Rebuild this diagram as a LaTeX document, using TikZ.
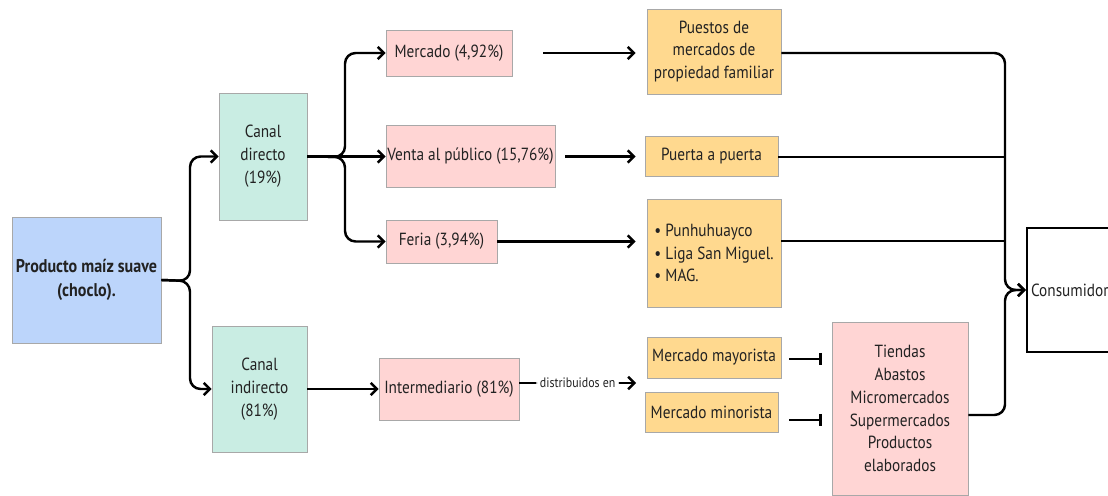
\documentclass[tikz,border=0pt]{standalone}
\usepackage{fontspec}
\setmainfont[FakeStretch=0.87]{PT Sans}
\usetikzlibrary{arrows.meta, positioning}

\definecolor{boxblue}{HTML}{BCD5FB}
\definecolor{boxteal}{HTML}{C9EDE3}
\definecolor{boxpink}{HTML}{FFD5D4}
\definecolor{boxorange}{HTML}{FFD98F}
\definecolor{boxline}{HTML}{A8A8A8}
\definecolor{txt}{HTML}{222222}

\begin{document}
\begin{tikzpicture}[
    x=0.02cm, y=-0.02cm,
    every node/.style={font=\fontsize{10}{13}\selectfont, text=txt, inner sep=0pt, align=center},
    box/.style={draw=boxline, line width=0.4pt},
    bluebox/.style={box, fill=boxblue},
    tealbox/.style={box, fill=boxteal},
    pinkbox/.style={box, fill=boxpink},
    orangebox/.style={box, fill=boxorange},
    conn/.style={line width=1.4pt, rounded corners=6pt, -{Straight Barb[length=3.5pt,width=7pt]}},
    line/.style={line width=1.4pt, rounded corners=6pt},
    stopper/.style={line width=1.4pt, -{Bar[width=7pt,line width=1.4pt]}}
]
\useasboundingbox (0,0) rectangle (1108,496);
% first column
\node[bluebox, minimum width=2.98cm, minimum height=2.52cm, font=\fontsize{10.5}{14}\selectfont\bfseries] (prod) at (86.5,280) {Producto maíz suave\\(choclo).};
% channels
\node[tealbox, minimum width=1.76cm, minimum height=2.54cm] (cdir) at (263,156.5) {Canal\\directo\\(19\%)};
\node[tealbox, minimum width=1.9cm, minimum height=2.52cm] (cind) at (259.5,389) {Canal\\indirecto\\(81\%)};
% sales points
\node[pinkbox, minimum width=2.52cm, minimum height=0.92cm] (merc) at (449,53) {Mercado (4,92\%)};
\node[pinkbox, minimum width=3.38cm, minimum height=1.24cm] (venta) at (470.5,156) {Venta al público (15,76\%)};
\node[pinkbox, minimum width=2.22cm, minimum height=0.86cm] (feria) at (441.5,241.5) {Feria (3,94\%)};
\node[pinkbox, minimum width=2.8cm, minimum height=1.24cm] (inter) at (449,389) {Intermediario (81\%)};
% places
\node[orangebox, minimum width=2.68cm, minimum height=1.7cm] (puestos) at (714,51.5) {Puestos de\\mercados de\\propiedad familiar};
\node[orangebox, minimum width=2.66cm, minimum height=0.8cm] (puerta) at (711.5,156) {Puerta a puerta};
\node[orangebox, minimum width=2.68cm, minimum height=2.16cm, align=left] (ferias) at (714,253) {\textbullet~Punhuhuayco\\\textbullet~Liga San Miguel.\\\textbullet~MAG.};
\node[orangebox, minimum width=2.68cm, minimum height=0.82cm] (mayor) at (714,357.5) {Mercado mayorista};
\node[orangebox, minimum width=2.66cm, minimum height=0.8cm] (minor) at (711.5,412) {Mercado minorista};
\node[pinkbox, minimum width=2.72cm, minimum height=3.46cm] (tiendas) at (900,408.5) {Tiendas\\Abastos\\Micromercados\\Supermercados\\Productos\\elaborados};
% end
\node[draw=black, line width=1.4pt, minimum width=2.26cm, minimum height=2.48cm, text width=2.1cm, align=left] (cons) at (1083.5,290) {Consumidor};
\coordinate (jx) at (1005,0);
\coordinate (dist) at (636,383);
% connectors
\draw[conn] (prod.east) -- (190,281) |- (cdir.west);
\draw[conn] (prod.east) -- (190,281) |- (cind.west);
\draw[conn] (cdir.east) -- (345,157) |- (merc.west);
\draw[conn] (cdir.east) -- (venta.west |- cdir.east);
\draw[conn] (cdir.east) -- (345,157) |- (feria.west);
\draw[conn] (cind.east) -- (inter.west |- cind.east);
\draw[conn, shorten <=0.62cm, shorten >=0.22cm] (merc.east) -- (merc.east -| puestos.west);
\draw[conn, shorten <=0.2cm, shorten >=0.18cm] (venta.east |- cdir.east) -- (cdir.east -| puerta.west);
\draw[conn, shorten >=0.22cm] (feria.east) -- (feria.east -| ferias.west);
\draw[conn] (inter.east |- dist) -- node[fill=white, inner xsep=2pt, inner ysep=1pt, font=\fontsize{7.8}{9}\selectfont] {distribuidos en} (dist);
\draw[stopper, shorten <=0.16cm, shorten >=0.2cm] (mayor.east |- 0,359) -- (tiendas.west |- 0,359);
\draw[stopper, shorten <=0.22cm, shorten >=0.2cm] (minor.east |- 0,420) -- (tiendas.west |- 0,420);
\draw[conn] (puestos.east |- 0,53) -| (jx |- cons.west) -- (cons.west);
\draw[line] (puerta.east |- 0,157) -- (jx |- 0,157);
\draw[line] (ferias.east |- 0,241) -- (jx |- 0,241);
\draw[conn] (tiendas.east |- 0,415) -| (jx |- cons.west) -- (cons.west);
\end{tikzpicture}
\end{document}
